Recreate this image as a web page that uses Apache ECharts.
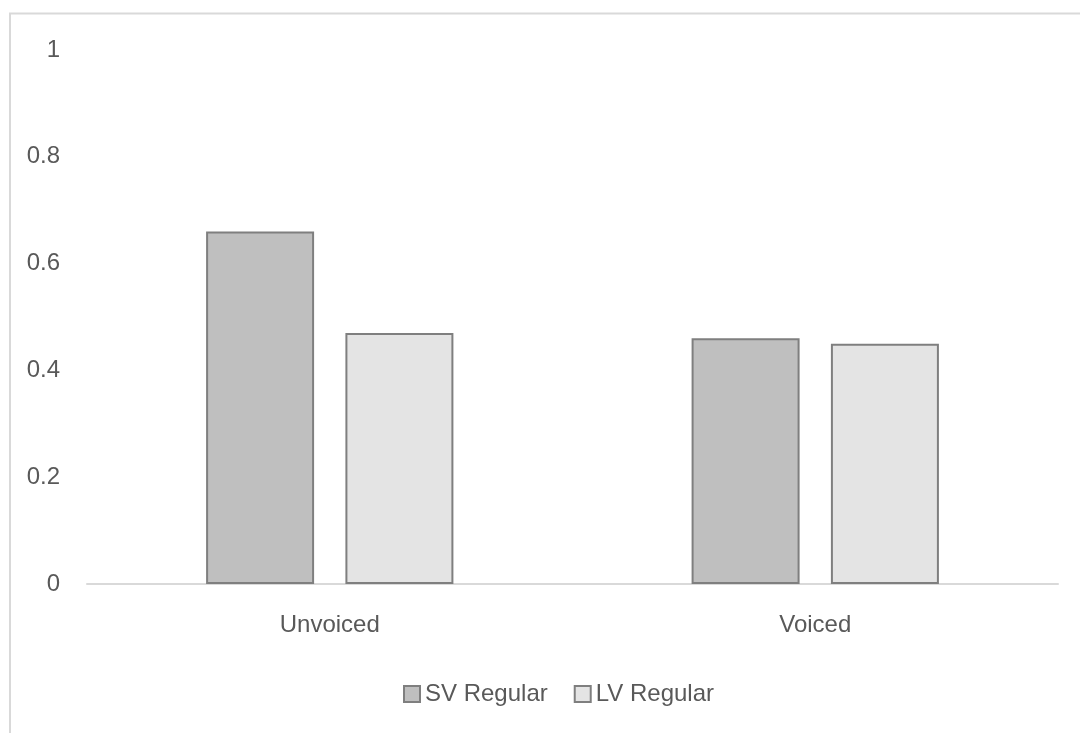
<!DOCTYPE html>
<html>
<head>
<meta charset="utf-8">
<style>
  html, body { margin: 0; padding: 0; background: #ffffff; }
  #chart { width: 1080px; height: 733px; }
</style>
<script src="https://cdn.jsdelivr.net/npm/echarts@6/dist/echarts.min.js"></script>
</head>
<body>
<div id="chart"></div>
<script>
// Categories and series values
const categories = ['Unvoiced', 'Voiced'];
const svRegular = [0.66, 0.46];
const lvRegular = [0.47, 0.45];
const seriesNames = ['SV Regular', 'LV Regular'];
const yTicks = { min: 0, max: 1, interval: 0.2 };

const FONT = "'Liberation Sans', Arial, sans-serif";
const TEXT = '#595959';
const SIZE = 24;

const chart = echarts.init(document.getElementById('chart'), null, { renderer: 'canvas' });

chart.setOption({
  backgroundColor: '#ffffff',
  animation: false,
  textStyle: { fontFamily: FONT, color: TEXT },
  graphic: [{
    type: 'rect',
    shape: { x: 10, y: 13.5, width: 1200, height: 900 },
    style: { fill: 'none', stroke: '#d9d9d9', lineWidth: 2 },
    silent: true,
    z: -1
  }],
  grid: { left: 87, right: 22, top: 50, bottom: 149, containLabel: false },
  legend: {
    data: seriesNames,
    top: 677,
    left: 398,
    itemWidth: 16,
    itemHeight: 16,
    itemGap: 26,
    icon: 'rect',
    textStyle: { fontFamily: FONT, color: TEXT, fontSize: SIZE }
  },
  xAxis: {
    type: 'category',
    data: categories,
    axisLine: { show: true, lineStyle: { color: '#d9d9d9', width: 2 } },
    axisTick: { show: false },
    axisLabel: { color: TEXT, fontSize: SIZE, fontFamily: FONT, margin: 29 },
    splitLine: { show: false }
  },
  yAxis: {
    type: 'value',
    min: yTicks.min,
    max: yTicks.max,
    interval: yTicks.interval,
    axisLine: { show: false },
    axisTick: { show: false },
    splitLine: { show: false },
    axisLabel: {
      color: TEXT, fontSize: SIZE, fontFamily: FONT, margin: 27,
      formatter: v => String(Math.round(v * 10) / 10)
    }
  },
  series: [
    {
      name: seriesNames[0],
      type: 'bar',
      data: svRegular,
      barWidth: 108,
      barGap: '29%',
      itemStyle: { color: '#bfbfbf', borderColor: '#7f7f7f', borderWidth: 2 }
    },
    {
      name: seriesNames[1],
      type: 'bar',
      data: lvRegular,
      barWidth: 108,
      itemStyle: { color: '#e4e4e4', borderColor: '#7f7f7f', borderWidth: 2 }
    }
  ]
});
</script>
</body>
</html>
